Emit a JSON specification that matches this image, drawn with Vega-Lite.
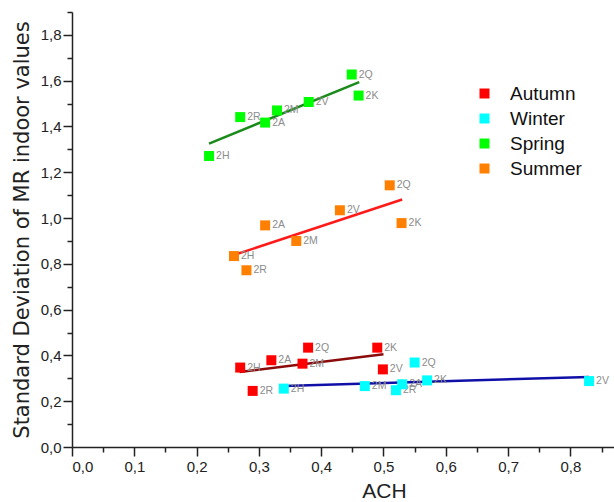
{
  "$schema": "https://vega.github.io/schema/vega-lite/v6.json",
  "width": 542,
  "height": 435,
  "autosize": {"type": "none"},
  "padding": {"left": 72, "top": 12, "right": 0, "bottom": 55},
  "background": "white",
  "config": {
    "view": {"stroke": null},
    "font": "Liberation Sans",
    "axis": {"grid": false}
  },
  "datasets": {
    "pts": [
      {"season": "Spring", "ach": 0.449, "sd": 1.627, "label": "2Q"},
      {"season": "Spring", "ach": 0.46, "sd": 1.535, "label": "2K"},
      {"season": "Spring", "ach": 0.38, "sd": 1.507, "label": "2V"},
      {"season": "Spring", "ach": 0.329, "sd": 1.47, "label": "2M"},
      {"season": "Spring", "ach": 0.27, "sd": 1.441, "label": "2R"},
      {"season": "Spring", "ach": 0.31, "sd": 1.417, "label": "2A"},
      {"season": "Spring", "ach": 0.22, "sd": 1.271, "label": "2H"},
      {"season": "Summer", "ach": 0.51, "sd": 1.143, "label": "2Q"},
      {"season": "Summer", "ach": 0.43, "sd": 1.034, "label": "2V"},
      {"season": "Summer", "ach": 0.31, "sd": 0.968, "label": "2A"},
      {"season": "Summer", "ach": 0.529, "sd": 0.978, "label": "2K"},
      {"season": "Summer", "ach": 0.36, "sd": 0.9, "label": "2M"},
      {"season": "Summer", "ach": 0.26, "sd": 0.834, "label": "2H"},
      {"season": "Summer", "ach": 0.28, "sd": 0.772, "label": "2R"},
      {"season": "Autumn", "ach": 0.379, "sd": 0.434, "label": "2Q"},
      {"season": "Autumn", "ach": 0.49, "sd": 0.434, "label": "2K"},
      {"season": "Autumn", "ach": 0.32, "sd": 0.379, "label": "2A"},
      {"season": "Autumn", "ach": 0.37, "sd": 0.364, "label": "2M"},
      {"season": "Autumn", "ach": 0.27, "sd": 0.347, "label": "2H"},
      {"season": "Autumn", "ach": 0.499, "sd": 0.339, "label": "2V"},
      {"season": "Autumn", "ach": 0.29, "sd": 0.245, "label": "2R"},
      {"season": "Winter", "ach": 0.34, "sd": 0.255, "label": "2H"},
      {"season": "Winter", "ach": 0.47, "sd": 0.266, "label": "2M"},
      {"season": "Winter", "ach": 0.53, "sd": 0.274, "label": "2A"},
      {"season": "Winter", "ach": 0.52, "sd": 0.248, "label": "2R"},
      {"season": "Winter", "ach": 0.57, "sd": 0.291, "label": "2K"},
      {"season": "Winter", "ach": 0.55, "sd": 0.369, "label": "2Q"},
      {"season": "Winter", "ach": 0.83, "sd": 0.288, "label": "2V"}
    ],
    "fits": [
      {"fit": "Spring fit", "ach": 0.22, "sd": 1.325},
      {"fit": "Spring fit", "ach": 0.461, "sd": 1.594},
      {"fit": "Summer fit", "ach": 0.258, "sd": 0.837},
      {"fit": "Summer fit", "ach": 0.53, "sd": 1.081},
      {"fit": "Autumn fit", "ach": 0.269, "sd": 0.328},
      {"fit": "Autumn fit", "ach": 0.5, "sd": 0.405},
      {"fit": "Winter fit", "ach": 0.34, "sd": 0.266},
      {"fit": "Winter fit", "ach": 0.83, "sd": 0.306}
    ]
  },
  "layer": [
    {
      "data": {"name": "fits"},
      "mark": {"type": "line", "strokeWidth": 2.5},
      "encoding": {
        "x": {"field": "ach", "type": "quantitative", "scale": {"domain": [0, 0.87], "nice": false, "zero": false}, "axis": null},
        "y": {"field": "sd", "type": "quantitative", "scale": {"domain": [0, 1.9], "nice": false, "zero": false}, "axis": null},
        "detail": {"field": "fit"},
        "stroke": {"field": "fit", "type": "nominal", "legend": null,
          "scale": {"domain": ["Autumn fit", "Winter fit", "Spring fit", "Summer fit"], "range": ["#8b0a0a", "#1010a8", "#1a8a1a", "#ff1a1a"]}}
      }
    },
    {
      "data": {"name": "pts"},
      "mark": {"type": "text", "align": "left", "baseline": "middle", "dx": 7, "fontSize": 10.5, "color": "#8c8c8c"},
      "encoding": {
        "x": {"field": "ach", "type": "quantitative",
          "axis": {"orient": "bottom", "values": [0.05, 0.15, 0.25, 0.35, 0.45, 0.55, 0.65, 0.75, 0.85], "labels": false, "domain": false, "tickSize": 5, "tickWidth": 1.5, "tickColor": "#222", "title": null}},
        "y": {"field": "sd", "type": "quantitative",
          "axis": {"orient": "left", "values": [0.1, 0.3, 0.5, 0.7, 0.9, 1.1, 1.3, 1.5, 1.7, 1.9], "labels": false, "domain": false, "tickSize": 5, "tickWidth": 1.5, "tickColor": "#222", "title": null}},
        "text": {"field": "label"}
      }
    },
    {
      "data": {"name": "pts"},
      "mark": {"type": "square", "filled": true, "size": 100, "opacity": 1},
      "encoding": {
        "x": {"field": "ach", "type": "quantitative",
          "axis": {"orient": "bottom", "title": "ACH", "values": [0, 0.1, 0.2, 0.3, 0.4, 0.5, 0.6, 0.7, 0.8],
            "labelExpr": "replace(format(datum.value, '.1f'), '.', ',')",
            "labelFontSize": 15, "labelColor": "#222", "labelPadding": 3,
            "tickSize": 9, "tickWidth": 1.5, "tickColor": "#222", "domainColor": "#222", "domainWidth": 1.5,
            "titleFontSize": 21, "titleFontWeight": "normal", "titleColor": "#222", "titleX": 312, "titleY": 33, "titleBaseline": "top"}},
        "y": {"field": "sd", "type": "quantitative",
          "axis": {"orient": "left", "title": "Standard Deviation of MR indoor values", "values": [0, 0.2, 0.4, 0.6, 0.8, 1.0, 1.2, 1.4, 1.6, 1.8],
            "labelExpr": "replace(format(datum.value, '.1f'), '.', ',')",
            "labelFontSize": 15, "labelColor": "#222", "labelPadding": 2,
            "tickSize": 9, "tickWidth": 1.5, "tickColor": "#222", "domainColor": "#222", "domainWidth": 1.5,
            "titleFont": "DejaVu Sans", "titleFontSize": 21, "titleFontWeight": "normal", "titleColor": "#222", "titlePadding": 8}},
        "color": {"field": "season", "type": "nominal",
          "scale": {"domain": ["Autumn", "Winter", "Spring", "Summer"], "range": ["#ff0000", "#00ffff", "#00ff00", "#ff8000"]},
          "legend": {"orient": "none", "legendX": 403, "legendY": 72, "title": null, "symbolType": "square", "symbolSize": 100,
            "labelFontSize": 19, "labelColor": "#111", "labelOffset": 16, "rowPadding": 5, "padding": 0, "symbolStrokeWidth": 0}}
      }
    }
  ],
  "resolve": {"axis": {"x": "independent", "y": "independent"}}
}
